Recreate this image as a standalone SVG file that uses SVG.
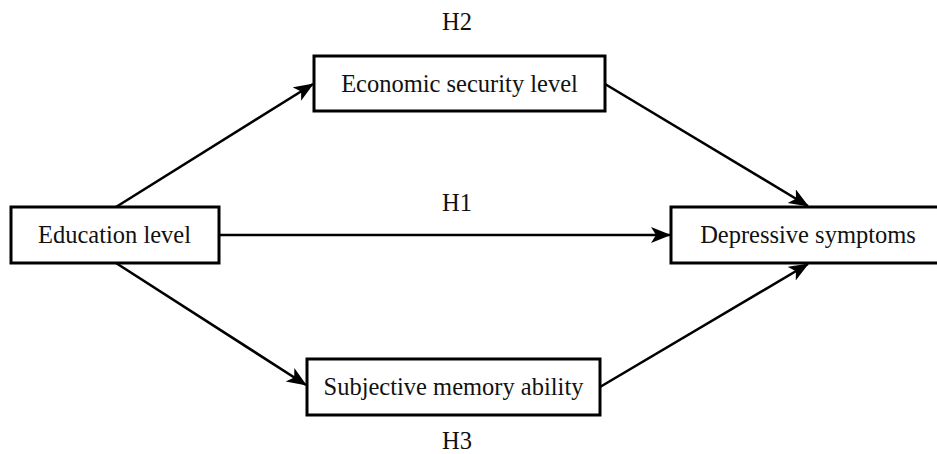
<svg xmlns="http://www.w3.org/2000/svg" width="937" height="454" viewBox="0 0 937 454">
<style>
.box{fill:#fff;stroke:#000;stroke-width:3}
.lbl{font-family:"Liberation Serif","Times New Roman",serif;font-size:24.5px;fill:#111;text-anchor:middle}
.edge{stroke:#000;stroke-width:2.6;fill:none;marker-end:url(#ah)}
</style>
<defs>
<marker id="ah" markerUnits="userSpaceOnUse" markerWidth="22" markerHeight="18" refX="19" refY="8" orient="auto">
<path d="M0,0 L20,8 L0,16 L5,8 Z" fill="#000"/>
</marker>
</defs>
<rect width="937" height="454" fill="#fff"/>
<g id="connectors">
<line class="edge" x1="116" y1="207" x2="313" y2="84"/>
<line class="edge" x1="116" y1="263" x2="306" y2="385"/>
<line class="edge" x1="219" y1="235" x2="670" y2="235"/>
<line class="edge" x1="605" y1="84" x2="808" y2="206"/>
<line class="edge" x1="600" y1="387" x2="808" y2="264"/>
</g>
<g id="education">
<rect class="box" x="11" y="207" width="208" height="56"/>
<text class="lbl" x="114.5" y="243">Education level</text>
</g>
<g id="economic">
<rect class="box" x="314" y="56" width="291" height="55"/>
<text class="lbl" x="459.5" y="92">Economic security level</text>
</g>
<g id="depressive">
<rect class="box" x="671" y="207" width="280" height="56"/>
<text class="lbl" x="808" y="243">Depressive symptoms</text>
</g>
<g id="memory">
<rect class="box" x="307" y="359" width="293" height="56"/>
<text class="lbl" x="453.5" y="395">Subjective memory ability</text>
</g>
<g id="labels">
<text class="lbl" x="457" y="30">H2</text>
<text class="lbl" x="457" y="211">H1</text>
<text class="lbl" x="457" y="449">H3</text>
</g>
</svg>
